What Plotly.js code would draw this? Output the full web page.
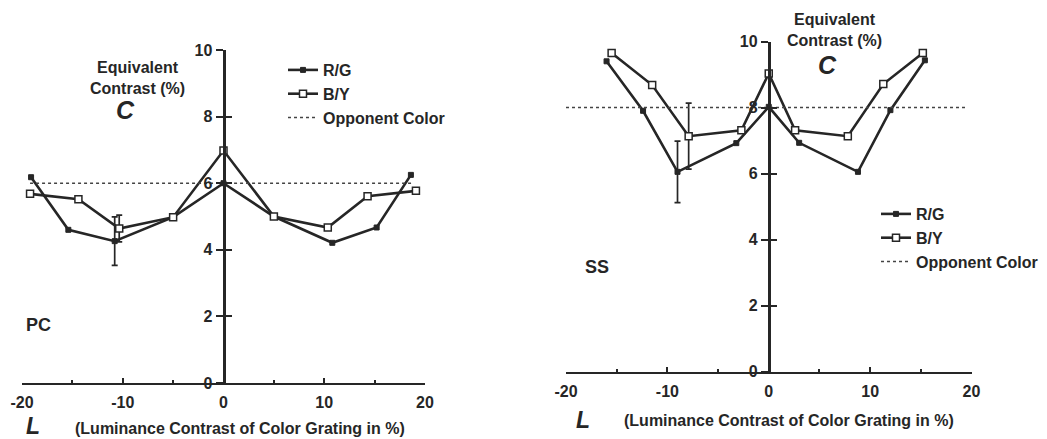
<!DOCTYPE html>
<html>
<head>
<meta charset="utf-8">
<script src="https://cdn.plot.ly/plotly-3.0.1.min.js"></script>
<style>html,body{margin:0;padding:0;background:#fff;}#chart{width:1047px;height:439px;}</style>
</head>
<body>
<div id="chart"></div>
<script>
// ---- Data: PC (left panel) ----
var xRG_PC = [-19.1, -15.4, -10.8, -5.0, 0, 5.0, 10.8, 15.2, 18.6];
var yRG_PC = [6.18, 4.6, 4.26, 4.98, 6.0, 5.0, 4.21, 4.67, 6.25];
var errRG_PC = [null, null, 0.73, null, null, null, null, null, null];
var xBY_PC = [-19.2, -14.4, -10.35, -5.0, 0, 5.0, 10.35, 14.3, 19.1];
var yBY_PC = [5.68, 5.52, 4.64, 4.98, 6.98, 5.0, 4.67, 5.61, 5.77];
var errBY_PC = [null, null, 0.4, null, null, null, null, null, null];
var xOpp_PC = [-19.2, 18.9];
var yOpp_PC = [6.0, 6.0];

// ---- Data: SS (right panel) ----
var xRG_SS = [-16.0, -12.4, -9.0, -3.2, 0, 3.0, 8.8, 12.0, 15.4];
var yRG_SS = [9.4, 7.9, 6.05, 6.92, 8.02, 6.93, 6.05, 7.92, 9.43];
var errRG_SS = [null, null, 0.93, null, null, null, null, null, null];
var xBY_SS = [-15.5, -11.5, -7.9, -2.7, 0, 2.6, 7.8, 11.3, 15.2];
var yBY_SS = [9.65, 8.68, 7.13, 7.31, 9.03, 7.31, 7.13, 8.71, 9.65];
var errBY_SS = [null, null, 1.0, null, null, null, null, null, null];
var xOpp_SS = [-20.0, 19.5];
var yOpp_SS = [8.0, 8.0];

// ---- Labels ----
var seriesNames = ['R/G', 'B/Y', 'Opponent Color'];
var xTickVals = [-20, -10, 0, 10, 20];
var xTickText = ['-20', '-10', '0', '10', '20'];
var xTitle = '(Luminance Contrast of Color Grating in %)';
var yTitle = 'Equivalent<br>Contrast (%)';
var panelNames = ['PC', 'SS'];

var INK = '#262626';
var FONT = 'Liberation Sans, Arial, Helvetica, sans-serif';

function errArr(a) { return a.map(function (v) { return v === null ? NaN : v; }); }

function panelTraces(xa, ya, leg, xRG, yRG, eRG, xBY, yBY, eBY, xO, yO) {
  return [
    {
      x: xRG, y: yRG, xaxis: xa, yaxis: ya, legend: leg, name: seriesNames[0],
      type: 'scatter', mode: 'lines+markers',
      line: {color: INK, width: 2.6},
      marker: {symbol: 'square', size: 5, color: INK, line: {color: INK, width: 1}},
      error_y: {type: 'data', array: errArr(eRG), visible: true, color: INK, thickness: 1.7, width: 3},
      cliponaxis: false
    },
    {
      x: xBY, y: yBY, xaxis: xa, yaxis: ya, legend: leg, name: seriesNames[1],
      type: 'scatter', mode: 'lines+markers',
      line: {color: INK, width: 2.6},
      marker: {symbol: 'square', size: 7, color: '#ffffff', line: {color: INK, width: 1.5}},
      error_y: {type: 'data', array: errArr(eBY), visible: true, color: INK, thickness: 1.7, width: 3},
      cliponaxis: false
    },
    {
      x: xO, y: yO, xaxis: xa, yaxis: ya, legend: leg, name: seriesNames[2],
      type: 'scatter', mode: 'lines',
      line: {color: '#444', width: 1.6, dash: 'dot'},
      cliponaxis: false
    }
  ];
}

// helper (empty) traces so the overlaid tick-only axes are rendered
function tickHelper(xa, ya) {
  return {x: [], y: [], xaxis: xa, yaxis: ya, type: 'scatter', mode: 'lines',
          showlegend: false, hoverinfo: 'skip'};
}

var data = [].concat(
  panelTraces('x', 'y', 'legend', xRG_PC, yRG_PC, errRG_PC, xBY_PC, yBY_PC, errBY_PC, xOpp_PC, yOpp_PC),
  panelTraces('x2', 'y2', 'legend2', xRG_SS, yRG_SS, errRG_SS, xBY_SS, yBY_SS, errBY_SS, xOpp_SS, yOpp_SS),
  [tickHelper('x', 'y3'), tickHelper('x2', 'y4')]
);

var W = 1047, H = 439;
function px(v) { return v / W; }
function py(v) { return (H - v) / H; }

var dxL = [px(22), px(425)];
var dyL = [py(383), py(50)];
var dxR = [px(566), px(971.5)];
var dyR = [py(371.5), py(41.5)];
var posL = (dxL[0] + dxL[1]) / 2;
var posR = (dxR[0] + dxR[1]) / 2;

function xAxis(domain, anchor) {
  return {
    domain: domain, anchor: anchor, range: [-20, 20],
    showgrid: false, zeroline: false,
    showline: true, linecolor: INK, linewidth: 2,
    tickmode: 'array', tickvals: xTickVals, ticktext: xTickText,
    ticks: 'inside', ticklen: 5, tickwidth: 2, tickcolor: INK,
    minor: {dtick: 5, tick0: 0, ticks: 'inside', ticklen: 3, tickwidth: 2, tickcolor: INK, showgrid: false},
    tickfont: {family: FONT, size: 16, color: INK, weight: 'bold'},
    ticklabelstandoff: 4,
    fixedrange: true
  };
}
function yAxis(domain, pos) {
  return {
    domain: domain, anchor: 'free', position: pos, side: 'left', range: [0, 10],
    showgrid: false, zeroline: false,
    showline: true, linecolor: INK, linewidth: 3,
    dtick: 2, tick0: 0,
    ticks: 'outside', ticklen: 7, tickwidth: 2, tickcolor: INK,
    tickfont: {family: FONT, size: 16, color: INK, weight: 'bold'},
    fixedrange: true
  };
}
function yCross(over, domain, pos) {
  return {
    overlaying: over, domain: domain, anchor: 'free', position: pos, side: 'left', range: [0, 10],
    showgrid: false, zeroline: false, showline: false,
    tickmode: 'array', tickvals: [2, 4, 6, 8, 10],
    ticks: 'inside', ticklen: 7, tickwidth: 2, tickcolor: INK,
    showticklabels: false, fixedrange: true
  };
}

function legendCfg(x, y) {
  return {
    x: x, y: y, xanchor: 'left', yanchor: 'top',
    bgcolor: 'rgba(0,0,0,0)', borderwidth: 0,
    font: {family: FONT, size: 16, color: INK, weight: 'bold'},
    itemwidth: 30, tracegroupgap: 0, traceorder: 'normal'
  };
}

function ann(text, x, y, size, italic) {
  return {
    text: text, xref: 'paper', yref: 'paper', x: px(x), y: py(y),
    xanchor: 'center', yanchor: 'middle', showarrow: false,
    font: {family: FONT, size: size, color: INK, weight: 'bold', style: italic ? 'italic' : 'normal'}
  };
}

var layout = {
  width: W, height: H,
  margin: {l: 0, r: 0, t: 0, b: 0},
  paper_bgcolor: '#ffffff', plot_bgcolor: 'rgba(0,0,0,0)',
  font: {family: FONT, size: 16, color: INK, weight: 'bold'},
  showlegend: true,
  xaxis: xAxis(dxL, 'y'),
  yaxis: yAxis(dyL, posL),
  yaxis3: yCross('y', dyL, posL),
  xaxis2: xAxis(dxR, 'y2'),
  yaxis2: yAxis(dyR, posR),
  yaxis4: yCross('y2', dyR, posR),
  legend: legendCfg(px(283), py(53)),
  legend2: legendCfg(px(876), py(197)),
  annotations: [
    ann(yTitle, 137, 78, 16, false),
    ann('C', 125, 110, 25, true),
    ann(panelNames[0], 38, 325, 18, false),
    ann('L', 33, 426, 23, true),
    ann(xTitle, 240, 428, 16, false),
    ann(yTitle, 834, 30, 16, false),
    ann('C', 827, 65, 25, true),
    ann(panelNames[1], 597, 267, 18, false),
    ann('L', 583, 420, 23, true),
    ann(xTitle, 789, 420, 16, false)
  ]
};

Plotly.newPlot('chart', data, layout, {staticPlot: true, displayModeBar: false});
</script>
</body>
</html>
